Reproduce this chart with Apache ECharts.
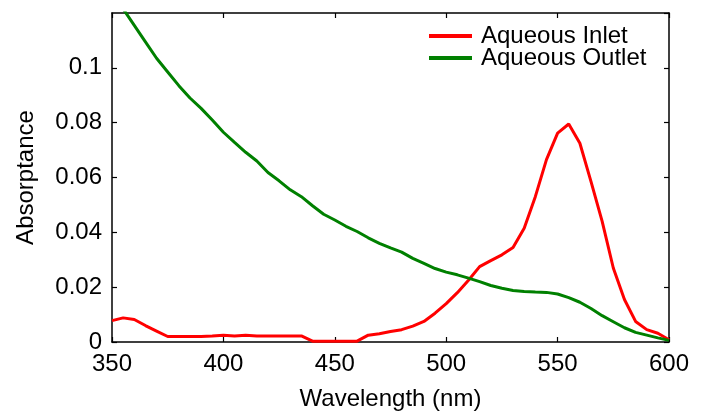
<!DOCTYPE html>
<html>
<head>
<meta charset="utf-8">
<script src="https://cdn.jsdelivr.net/npm/echarts@6/dist/echarts.min.js"></script>
<style>
  html, body { margin: 0; padding: 0; background: #fff; }
  #chart { width: 706px; height: 416px; }
</style>
</head>
<body>
<div id="chart"></div>
<script>
  // wavelengths in nm, sampled every 5 nm
  var wavelengths = [350, 355, 360, 365, 370, 375, 380, 385, 390, 395,
    400, 405, 410, 415, 420, 425, 430, 435, 440, 445,
    450, 455, 460, 465, 470, 475, 480, 485, 490, 495,
    500, 505, 510, 515, 520, 525, 530, 535, 540, 545,
    550, 555, 560, 565, 570, 575, 580, 585, 590, 595, 600];

  var inlet = [0.0078, 0.0088, 0.0082, 0.0060, 0.0040, 0.0020, 0.0020, 0.0020, 0.0020, 0.0022,
    0.0025, 0.0022, 0.0025, 0.0022, 0.0022, 0.0022, 0.0022, 0.0022, 0.0003, 0.0003,
    0.0003, 0.0003, 0.0003, 0.0025, 0.0030, 0.0038, 0.0045, 0.0058, 0.0075, 0.0105,
    0.0140, 0.0180, 0.0225, 0.0275, 0.0297, 0.0318, 0.0345, 0.0415, 0.0530, 0.0665,
    0.0762, 0.0795, 0.0725, 0.0585, 0.0440, 0.0270, 0.0155, 0.0075, 0.0045, 0.0032, 0.0008];

  var outlet = [0.1280, 0.1215, 0.1155, 0.1095, 0.1035, 0.0985, 0.0935, 0.0890, 0.0852, 0.0810,
    0.0765, 0.0728, 0.0692, 0.0660, 0.0618, 0.0588, 0.0555, 0.0530, 0.0497, 0.0466,
    0.0445, 0.0422, 0.0403, 0.0380, 0.0360, 0.0343, 0.0328, 0.0305, 0.0287, 0.0268,
    0.0255, 0.0245, 0.0233, 0.0220, 0.0206, 0.0196, 0.0188, 0.0184, 0.0182, 0.0181,
    0.0175, 0.0162, 0.0145, 0.0122, 0.0096, 0.0074, 0.0052, 0.0035, 0.0025, 0.0015, 0.0006];

  var xTicks = [350, 400, 450, 500, 550, 600];
  var yTicks = [0, 0.02, 0.04, 0.06, 0.08, 0.1];

  function pairs(ys) {
    return wavelengths.map(function (x, i) { return [x, ys[i]]; });
  }

  var font = "'Liberation Sans', Arial, sans-serif";
  var axisLine = { show: true, onZero: false, lineStyle: { color: '#000', width: 1.5 } };
  var tick = { show: true, inside: true, length: 5, lineStyle: { color: '#000', width: 1.2 } };

  var myCharts = echarts.init(document.getElementById('chart'));
  var option = {
    backgroundColor: '#fff',
    animation: false,
    textStyle: { fontFamily: font },
    grid: { left: 112, right: 37, top: 13, bottom: 72 },
    legend: {
      orient: 'vertical',
      left: 429,
      top: 24,
      padding: 0,
      itemWidth: 43,
      itemHeight: 4,
      itemGap: -2,
      icon: 'rect',
      textStyle: { fontSize: 24, color: '#000', lineHeight: 22, fontFamily: font, padding: [0, 0, 0, 4] },
      data: ['Aqueous Inlet', 'Aqueous Outlet']
    },
    xAxis: [
      {
        type: 'value',
        min: xTicks[0],
        max: xTicks[xTicks.length - 1],
        interval: 50,
        name: 'Wavelength (nm)',
        nameLocation: 'middle',
        nameGap: 45,
        nameTextStyle: { fontSize: 24, color: '#000' },
        axisLine: axisLine,
        axisTick: tick,
        splitLine: { show: false },
        axisLabel: { fontSize: 24, color: '#000', margin: 10 }
      },
      {
        type: 'value',
        position: 'top',
        min: xTicks[0],
        max: xTicks[xTicks.length - 1],
        interval: 50,
        axisLine: axisLine,
        axisTick: tick,
        splitLine: { show: false },
        axisLabel: { show: false }
      }
    ],
    yAxis: [
      {
        type: 'value',
        min: 0,
        max: 0.12,
        interval: 0.02,
        name: 'Absorptance',
        nameLocation: 'middle',
        nameGap: 74,
        nameTextStyle: { fontSize: 24, color: '#000' },
        axisLine: axisLine,
        axisTick: tick,
        splitLine: { show: false },
        axisLabel: {
          fontSize: 24, color: '#000', margin: 10, showMaxLabel: false,
          formatter: function (v) { return yTicks.indexOf(+v.toFixed(2)) >= 0 ? String(+v.toFixed(2)) : ''; }
        }
      },
      {
        type: 'value',
        position: 'right',
        min: 0,
        max: 0.12,
        interval: 0.02,
        axisLine: axisLine,
        axisTick: tick,
        splitLine: { show: false },
        axisLabel: { show: false }
      }
    ],
    series: [
      {
        name: 'Aqueous Inlet',
        type: 'line',
        data: pairs(inlet),
        symbol: 'none',
        clip: true,
        itemStyle: { color: '#ff0000' },
        lineStyle: { color: '#ff0000', width: 3 }
      },
      {
        name: 'Aqueous Outlet',
        type: 'line',
        data: pairs(outlet),
        symbol: 'none',
        clip: true,
        itemStyle: { color: '#008000' },
        lineStyle: { color: '#008000', width: 3 }
      }
    ]
  };
  myCharts.setOption(option);
</script>
</body>
</html>
